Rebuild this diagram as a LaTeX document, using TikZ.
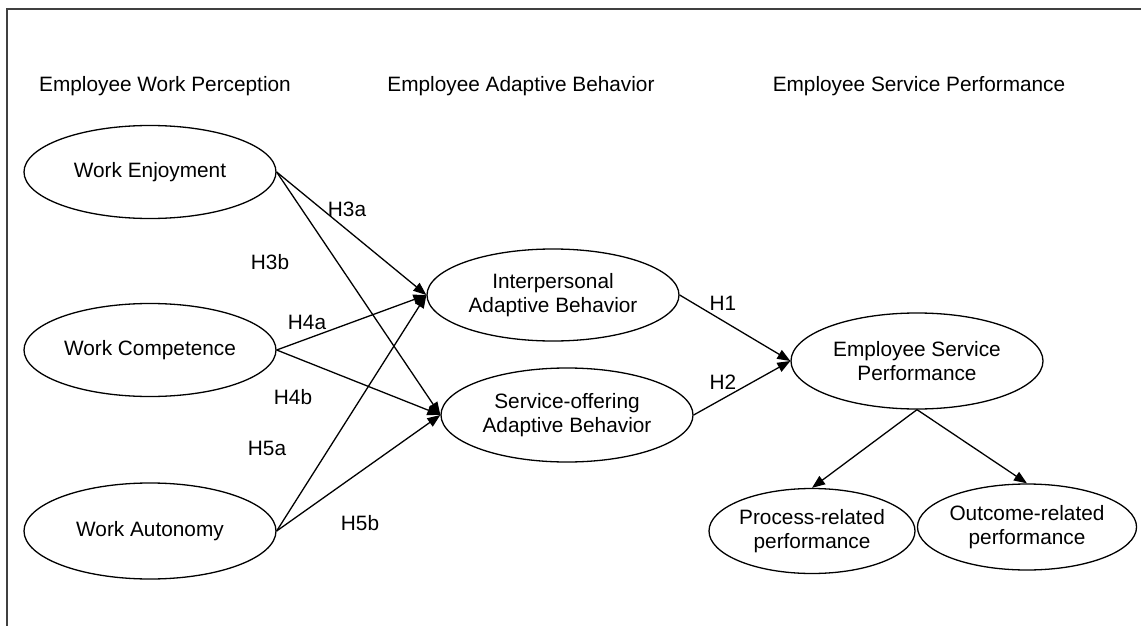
\documentclass[tikz,border=0pt]{standalone}
\usepackage{fontspec}
\setmainfont{Liberation Sans}
\usetikzlibrary{shapes.geometric,arrows.meta}
\tikzset{
  lbl/.style={font=\fontsize{20.8}{24}\selectfont, inner sep=0pt, align=center},
  oval/.style={ellipse, draw, line width=1.3pt, inner sep=0pt, font=\fontsize{20.8}{24}\selectfont, align=center},
  big/.style={oval, minimum width=252pt, minimum height=93pt},
  small/.style={oval, minimum width=201pt, minimum height=86pt},
  arr/.style={draw, line width=1.3pt, -{Triangle[length=13pt,width=10pt]}},
}
\begin{document}
\begin{tikzpicture}[x=1pt,y=-1pt]
\useasboundingbox (0,0) rectangle (1141,626);
\clip (0,0) rectangle (1141,626);
\draw[line width=2pt, draw=black!75] (7,9) rectangle (1300,800);

% headers
\node[lbl] (h1) at (165,86) {Employee Work Perception};
\node[lbl] (h2) at (521,86) {Employee Adaptive Behavior};
\node[lbl] (h3) at (919,86) {Employee Service Performance};

% left column
\node[big] (we) at (150,172) {Work Enjoyment};
\node[big] (wc) at (150,350) {Work Competence};
\node[big, minimum height=96pt] (wa) at (150,531) {Work Autonomy};

% middle column
\node[big, minimum height=92pt] (iab) at (553,295) {Interpersonal\\Adaptive Behavior};
\node[big, minimum height=94pt] (sab) at (567,415) {Service-offering\\Adaptive Behavior};

% right column
\node[big, minimum height=96pt] (esp) at (917,361) {Employee Service\\Performance};
\node[small, minimum height=85pt] (prp) at (812,531) {Process-related\\performance};
\node[small] (orp) at (1027,527) {Outcome-related\\performance};

% connectors
\draw[arr] (we.east) -- (iab.west);
\draw[arr] (we.east) -- (sab.west);
\draw[arr] (wc.east) -- (iab.west);
\draw[arr] (wc.east) -- (sab.west);
\draw[arr] (wa.east) -- (iab.west);
\draw[arr] (wa.east) -- (sab.west);
\draw[arr] (iab.east) -- (esp.west);
\draw[arr] (sab.east) -- (esp.west);
\draw[arr] (esp.south) -- (prp.north);
\draw[arr] (esp.south) -- (orp.north);

% hypothesis labels
\node[lbl] (l3a) at (347,209) {H3a};
\node[lbl] (l3b) at (270,262) {H3b};
\node[lbl] (l4a) at (307,322) {H4a};
\node[lbl] (l4b) at (293,397) {H4b};
\node[lbl] (l5a) at (267,448) {H5a};
\node[lbl] (l5b) at (360,523) {H5b};
\node[lbl] (lh1) at (723,303) {H1};
\node[lbl] (lh2) at (723,382) {H2};
\end{tikzpicture}
\end{document}
